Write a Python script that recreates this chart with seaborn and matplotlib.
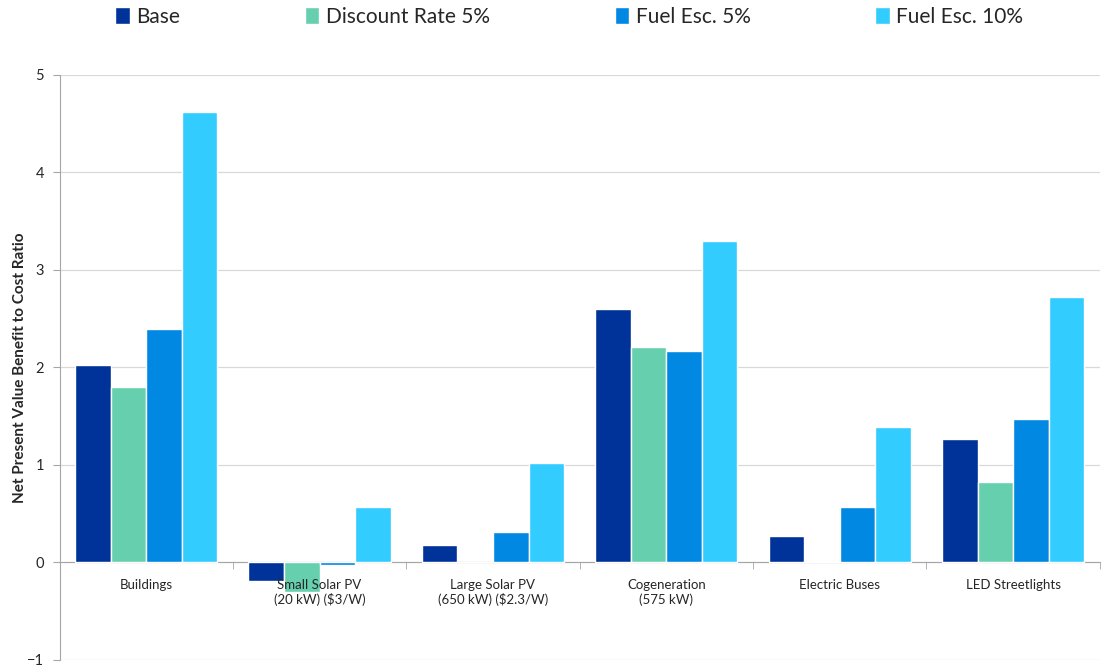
import pandas as pd
import matplotlib.pyplot as plt
import seaborn as sns
from matplotlib.ticker import FixedLocator, NullFormatter

# Chart data
categories = ['Buildings', 'Small Solar PV\n(20 kW) ($3/W)', 'Large Solar PV\n(650 kW) ($2.3/W)',
              'Cogeneration\n(575 kW)', 'Electric Buses', 'LED Streetlights']
scenarios = ['Base', 'Discount Rate 5%', 'Fuel Esc. 5%', 'Fuel Esc. 10%']
base = [2.02, -0.19, 0.18, 2.60, 0.27, 1.27]
discount_5 = [1.80, -0.30, 0.0, 2.21, 0.02, 0.82]
fuel_esc_5 = [2.39, -0.03, 0.31, 2.17, 0.57, 1.47]
fuel_esc_10 = [4.62, 0.57, 1.02, 3.30, 1.39, 2.72]
colors = ['#003399', '#66CFAE', '#0088E2', '#33CCFF']

# long form for seaborn
rows = []
for s, vals in zip(scenarios, [base, discount_5, fuel_esc_5, fuel_esc_10]):
    for c, v in zip(categories, vals):
        rows.append({'Category': c, 'Scenario': s, 'Value': v})
df = pd.DataFrame(rows)

sns.set_style('white')
plt.rcParams['font.family'] = ['Lato', 'DejaVu Sans']

fig = plt.figure(figsize=(11.02, 6.68), dpi=100)
ax = fig.add_axes([0.054, 0.012, 0.944, 0.876])

sns.barplot(data=df, x='Category', y='Value', hue='Scenario', order=categories,
            hue_order=scenarios, palette=colors, width=0.82, saturation=1,
            ax=ax, zorder=3)

ax.set_ylim(-1, 5)
ax.set_xlim(-0.5, len(categories) - 0.5)
ax.set_yticks(range(-1, 6))
ax.yaxis.grid(True, color='#d9d9d9', linewidth=0.9, zorder=0)
ax.tick_params(axis='y', labelsize=10.5, length=5, color='#a6a6a6', left=True, pad=6)

ax.set_xlabel('')
ax.set_ylabel('Net Present Value Benefit to Cost Ratio', fontsize=11,
              fontweight='bold')
ax.yaxis.set_label_coords(-0.031, 0.5)

# x axis line at zero, group separators as minor ticks
for side in ['top', 'right']:
    ax.spines[side].set_visible(False)
ax.spines['bottom'].set_position(('data', 0))
ax.spines['bottom'].set_color('#a6a6a6')
ax.spines['left'].set_color('#a6a6a6')
ax.tick_params(axis='x', which='major', length=0, labelsize=9.5, pad=12)
ax.xaxis.set_minor_locator(FixedLocator([i + 0.5 for i in range(-1, len(categories))]))
ax.xaxis.set_minor_formatter(NullFormatter())
ax.tick_params(axis='x', which='minor', length=5, color='#a6a6a6', bottom=True)
ax.xaxis.set_zorder(4)  # labels sit over the negative bars

ax.legend(loc='upper center', bbox_to_anchor=(0.49, 1.148), ncol=4, frameon=False,
          fontsize=15, handlelength=0.7, handleheight=0.9, columnspacing=6.0,
          handletextpad=0.3)

fig.savefig('out.png', dpi=100)
